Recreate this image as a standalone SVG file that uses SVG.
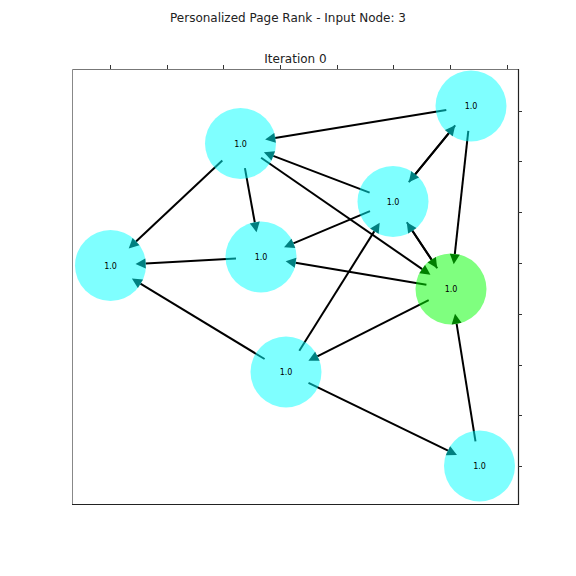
<svg xmlns="http://www.w3.org/2000/svg" width="576" height="576" viewBox="0 0 576 576">
<style>
.t{font-family:"DejaVu Sans",sans-serif;fill:#222}
.e line{stroke:#000;stroke-width:2;marker-end:url(#ah)}
.n circle{stroke:none;fill-opacity:0.5}
.n text{font-family:"DejaVu Sans",sans-serif;font-size:8px;fill:#000;text-anchor:middle}
.tk{stroke:#333;stroke-width:1}
</style>
<defs>
<marker id="ah" markerUnits="userSpaceOnUse" markerWidth="10" markerHeight="10" refX="0" refY="5" orient="auto" overflow="visible">
<path d="M0,0 L10,5 L0,10 z" fill="#000"/>
</marker>
</defs>
<rect width="576" height="576" fill="#fff"/>
<text class="t" x="288" y="22" font-size="12" text-anchor="middle">Personalized Page Rank - Input Node: 3</text>
<text class="t" x="295.5" y="63" font-size="12" text-anchor="middle">Iteration 0</text>
<g id="axes">
<rect x="72.5" y="69.5" width="446" height="435" fill="#fff" stroke="none"/>
<line x1="72.5" y1="69.5" x2="72.5" y2="504.5" stroke="#888" stroke-width="1"/>
<line x1="72.5" y1="69.5" x2="518.5" y2="69.5" stroke="#777" stroke-width="1"/>
<line x1="518.5" y1="69" x2="518.5" y2="505" stroke="#222" stroke-width="1.2"/>
<line x1="72" y1="504.5" x2="519" y2="504.5" stroke="#222" stroke-width="1.2"/>
<g class="tk">
<line x1="110.5" y1="65" x2="110.5" y2="69"/>
<line x1="167.5" y1="65" x2="167.5" y2="69"/>
<line x1="223.5" y1="65" x2="223.5" y2="69"/>
<line x1="280.5" y1="65" x2="280.5" y2="69"/>
<line x1="337.5" y1="65" x2="337.5" y2="69"/>
<line x1="393.5" y1="65" x2="393.5" y2="69"/>
<line x1="450.5" y1="65" x2="450.5" y2="69"/>
<line x1="507.5" y1="65" x2="507.5" y2="69"/>
<line x1="518" y1="111.5" x2="522" y2="111.5"/>
<line x1="518" y1="161.5" x2="522" y2="161.5"/>
<line x1="518" y1="212.5" x2="522" y2="212.5"/>
<line x1="518" y1="263.5" x2="522" y2="263.5"/>
<line x1="518" y1="314.5" x2="522" y2="314.5"/>
<line x1="518" y1="365.5" x2="522" y2="365.5"/>
<line x1="518" y1="415.5" x2="522" y2="415.5"/>
<line x1="518" y1="466.5" x2="522" y2="466.5"/>
</g>
</g>
<g id="edges" class="e">
<line x1="446.3" y1="110.0" x2="275.0" y2="137.9"/>
<line x1="369.6" y1="192.6" x2="273.2" y2="155.9"/>
<line x1="261.1" y1="157.7" x2="422.2" y2="269.1"/>
<line x1="222.3" y1="160.6" x2="136.0" y2="241.6"/>
<line x1="244.9" y1="168.1" x2="254.8" y2="222.5"/>
<line x1="408.8" y1="182.1" x2="448.9" y2="133.1"/>
<line x1="455.2" y1="125.4" x2="415.1" y2="174.4"/>
<line x1="468.3" y1="130.9" x2="454.8" y2="254.2"/>
<line x1="370.0" y1="211.2" x2="293.3" y2="243.4"/>
<line x1="406.8" y1="222.3" x2="431.7" y2="259.8"/>
<line x1="437.2" y1="268.2" x2="412.3" y2="230.7"/>
<line x1="236.0" y1="258.4" x2="145.5" y2="263.5"/>
<line x1="426.4" y1="284.8" x2="295.5" y2="262.8"/>
<line x1="264.6" y1="359.0" x2="140.4" y2="283.7"/>
<line x1="299.3" y1="350.8" x2="374.4" y2="231.1"/>
<line x1="428.7" y1="300.2" x2="317.3" y2="356.3"/>
<line x1="308.5" y1="382.9" x2="448.0" y2="450.7"/>
<line x1="475.5" y1="441.3" x2="456.6" y2="323.6"/>
</g>
<g id="n0" class="n"><circle cx="240.5" cy="143.5" r="35.5" fill="#00ffff"/><text x="240.5" y="146.5">1.0</text></g>
<g id="n1" class="n"><circle cx="471" cy="106" r="35.5" fill="#00ffff"/><text x="471" y="109">1.0</text></g>
<g id="n2" class="n"><circle cx="393" cy="201.5" r="35.5" fill="#00ffff"/><text x="393" y="204.5">1.0</text></g>
<g id="n3" class="n"><circle cx="451" cy="289" r="35.5" fill="#00ff00"/><text x="451" y="292">1.0</text></g>
<g id="n4" class="n"><circle cx="110.5" cy="265.5" r="35.5" fill="#00ffff"/><text x="110.5" y="268.5">1.0</text></g>
<g id="n5" class="n"><circle cx="261" cy="257" r="35.5" fill="#00ffff"/><text x="261" y="260">1.0</text></g>
<g id="n6" class="n"><circle cx="286" cy="372" r="35.5" fill="#00ffff"/><text x="286" y="375">1.0</text></g>
<g id="n7" class="n"><circle cx="479.5" cy="466" r="35.5" fill="#00ffff"/><text x="479.5" y="469">1.0</text></g>
</svg>
